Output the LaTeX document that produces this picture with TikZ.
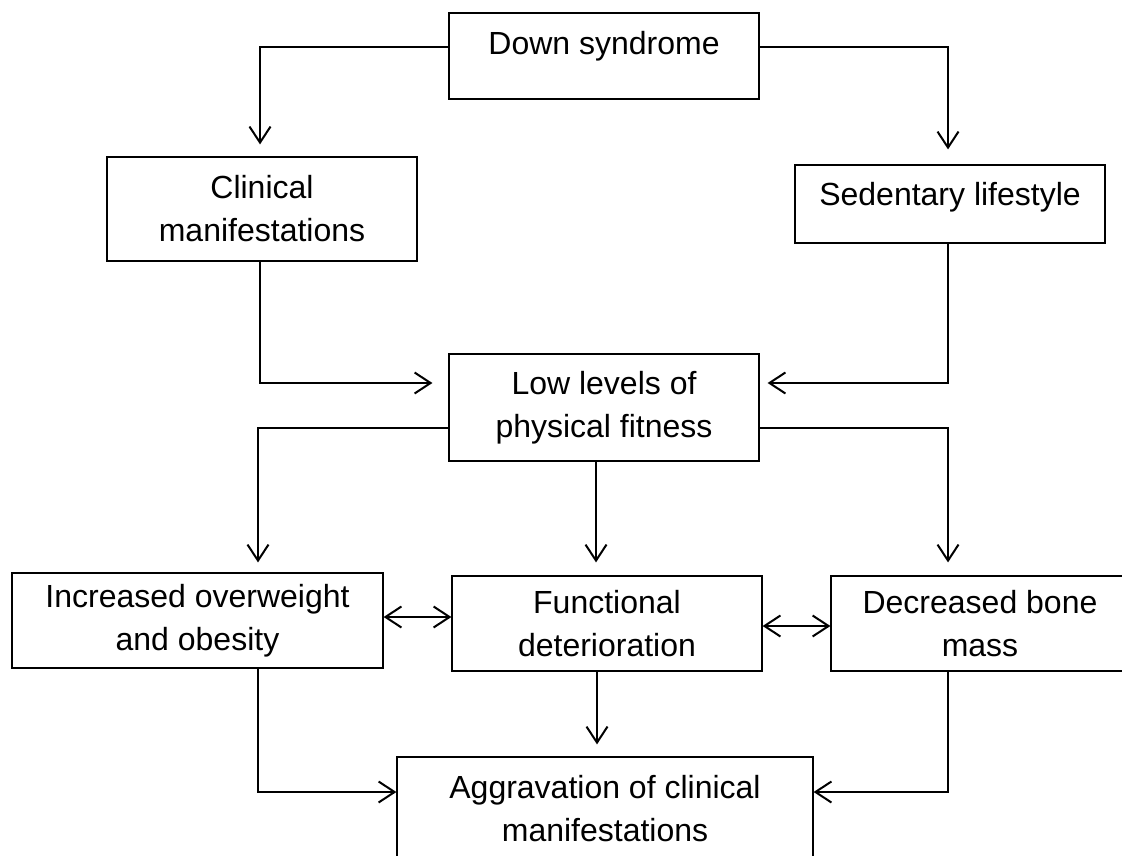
\documentclass[tikz,border=0pt]{standalone}
\usepackage{fontspec}
\setmainfont{Liberation Sans}
\usetikzlibrary{positioning,calc,arrows.meta}

\begin{document}
\begin{tikzpicture}[x=0.5pt,y=-0.5pt,
  box/.style={draw,line width=0.6pt,rectangle,align=center,inner sep=0pt,
    font=\fontsize{16}{21.5}\selectfont},
  arr/.style={line width=1pt,-{Straight Barb[length=8pt,width=10.5pt]}},
  dbl/.style={line width=1pt,{Straight Barb[length=8pt,width=10.5pt]}-{Straight Barb[length=8pt,width=10.5pt]}}]
  % Page
  \useasboundingbox (0,0) rectangle (1122,855);
  \clip (0,0) rectangle (1122,855);

  % Nodes
  \node[box,minimum width=155pt,minimum height=43pt,text height=11.5pt,text depth=13pt] (down) at (604,56) {Down syndrome};
  \node[box,minimum width=155pt,minimum height=52pt] (clin) at (262,209) {Clinical\\manifestations};
  \node[box,minimum width=155pt,minimum height=39pt,text height=11.5pt,text depth=10pt] (sed) at (950,204) {Sedentary lifestyle};
  \node[box,minimum width=155pt,minimum height=53.5pt] (low) at (604,407.5) {Low levels of\\physical fitness};
  \node[box,minimum width=185.5pt,minimum height=47.5pt] (over) at (197.5,620.5) {Increased overweight\\and obesity};
  \node[box,minimum width=155pt,minimum height=47.5pt] (func) at (607,623.5) {Functional\\deterioration};
  \node[box,minimum width=149pt,minimum height=47.5pt] (bone) at (980,623.5) {Decreased bone\\mass};
  \node[box,minimum width=208pt,minimum height=52pt] (aggr) at (605,809) {Aggravation of clinical\\manifestations};

  % Arrows
  \draw[arr,shorten >=6pt] ([yshift=4.5pt]down.west) -| ([xshift=-1pt]clin.north);
  \draw[arr,shorten >=7.5pt] ([yshift=4.5pt]down.east) -| ([xshift=-1pt]sed.north);
  \draw[arr,shorten >=8pt] ([xshift=-1pt]clin.south) |- ([yshift=12.25pt]low.west);
  \draw[arr,shorten >=4pt] ([xshift=-1pt]sed.south) |- ([yshift=12.25pt]low.east);
  \draw[arr,shorten >=5pt] ([yshift=-10.25pt]low.west) -| ([xshift=30.25pt]over.north);
  \draw[arr,shorten >=6.5pt] ([xshift=-4pt]low.south) -- ([xshift=-5.5pt]func.north);
  \draw[arr,shorten >=6.5pt] ([yshift=-10.25pt]low.east) -| ([xshift=-16pt]bone.north);
  \draw[dbl] ([yshift=1.75pt]over.east) -- ([yshift=3.25pt]func.west);
  \draw[dbl] ([yshift=-1.25pt]func.east) -- ([yshift=-1.25pt]bone.west);
  \draw[arr] ([xshift=30.25pt]over.south) |- ([yshift=8.5pt]aggr.west);
  \draw[arr,shorten >=6pt] ([xshift=-5pt]func.south) -- ([xshift=-4pt]aggr.north);
  \draw[arr] ([xshift=-16pt]bone.south) |- ([yshift=8.5pt]aggr.east);
\end{tikzpicture}
\end{document}
